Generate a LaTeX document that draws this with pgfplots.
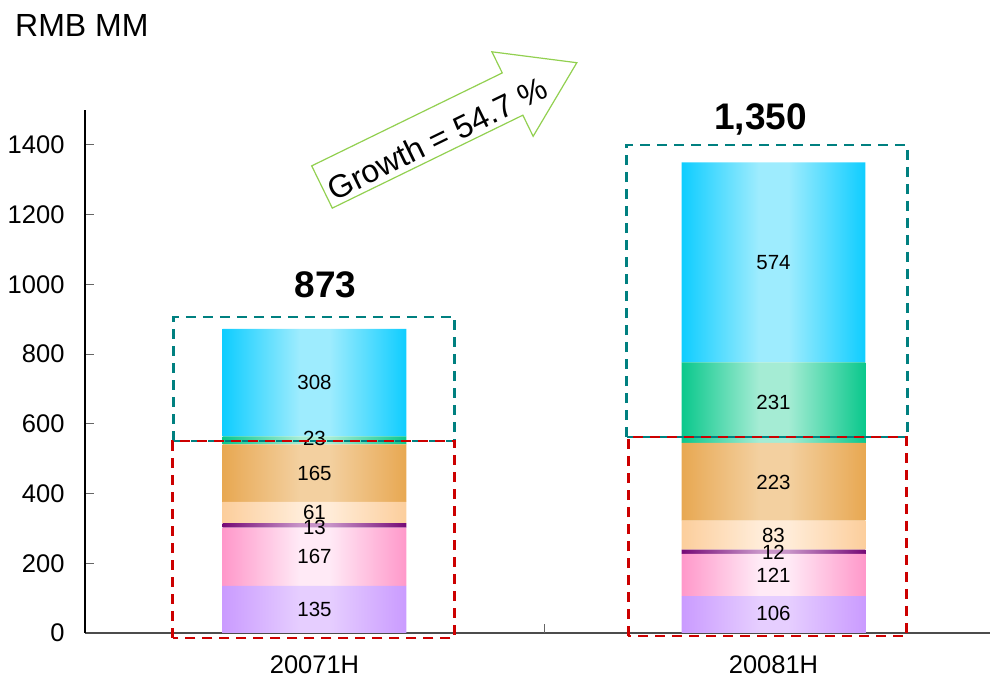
\documentclass[border=0pt]{standalone}
\usepackage{pgfplots}
\pgfplotsset{compat=1.18}
\usepackage{pgfplotstable}
\usepackage{fontspec}
\setmainfont{Liberation Sans}

\definecolor{c1e}{RGB}{202,155,255}
\definecolor{c1m}{RGB}{230,206,255}
\definecolor{c2e}{RGB}{255,152,202}
\definecolor{c2m}{RGB}{255,234,246}
\definecolor{c3e}{RGB}{118,10,118}
\definecolor{c3m}{RGB}{200,148,200}
\definecolor{c4e}{RGB}{252,206,156}
\definecolor{c4m}{RGB}{255,236,216}
\definecolor{c5e}{RGB}{232,168,82}
\definecolor{c5m}{RGB}{243,208,160}
\definecolor{c6e}{RGB}{10,200,140}
\definecolor{c6m}{RGB}{165,236,212}
\definecolor{c7e}{RGB}{15,205,255}
\definecolor{c7m}{RGB}{158,236,254}
\definecolor{boxteal}{RGB}{0,128,128}
\definecolor{boxred}{RGB}{204,0,0}
\definecolor{arrowgreen}{RGB}{146,208,80}

\pgfplotstableread{
x a b c d e f g
0 135 167 13 61 165 23 308
1 106 121 12 83 223 231 574
}\datatable

\begin{document}%
\begin{tikzpicture}[seglabel/.style={font=\fontsize{20.5}{24}\selectfont, inner sep=0pt, text=black},
  dashbox/.style={dash pattern=on 10pt off 7pt, line width=2.7pt}]
% one shading per series: the path of a series spans both bars
% (x from -0.2 to 1.2), mapped onto 25bp..75bp of the shading
\pgfdeclarehorizontalshading{sh1}{100bp}{color(0bp)=(c1e); color(25bp)=(c1e); color(31bp)=(c1m); color(33.29bp)=(c1m); color(39.29bp)=(c1e); color(60.71bp)=(c1e); color(66.71bp)=(c1m); color(69bp)=(c1m); color(75bp)=(c1e); color(100bp)=(c1e)}
\pgfdeclarehorizontalshading{sh2}{100bp}{color(0bp)=(c2e); color(25bp)=(c2e); color(31bp)=(c2m); color(33.29bp)=(c2m); color(39.29bp)=(c2e); color(60.71bp)=(c2e); color(66.71bp)=(c2m); color(69bp)=(c2m); color(75bp)=(c2e); color(100bp)=(c2e)}
\pgfdeclarehorizontalshading{sh3}{100bp}{color(0bp)=(c3e); color(25bp)=(c3e); color(31bp)=(c3m); color(33.29bp)=(c3m); color(39.29bp)=(c3e); color(60.71bp)=(c3e); color(66.71bp)=(c3m); color(69bp)=(c3m); color(75bp)=(c3e); color(100bp)=(c3e)}
\pgfdeclarehorizontalshading{sh4}{100bp}{color(0bp)=(c4e); color(25bp)=(c4e); color(31bp)=(c4m); color(33.29bp)=(c4m); color(39.29bp)=(c4e); color(60.71bp)=(c4e); color(66.71bp)=(c4m); color(69bp)=(c4m); color(75bp)=(c4e); color(100bp)=(c4e)}
\pgfdeclarehorizontalshading{sh5}{100bp}{color(0bp)=(c5e); color(25bp)=(c5e); color(31bp)=(c5m); color(33.29bp)=(c5m); color(39.29bp)=(c5e); color(60.71bp)=(c5e); color(66.71bp)=(c5m); color(69bp)=(c5m); color(75bp)=(c5e); color(100bp)=(c5e)}
\pgfdeclarehorizontalshading{sh6}{100bp}{color(0bp)=(c6e); color(25bp)=(c6e); color(31bp)=(c6m); color(33.29bp)=(c6m); color(39.29bp)=(c6e); color(60.71bp)=(c6e); color(66.71bp)=(c6m); color(69bp)=(c6m); color(75bp)=(c6e); color(100bp)=(c6e)}
\pgfdeclarehorizontalshading{sh7}{100bp}{color(0bp)=(c7e); color(25bp)=(c7e); color(31bp)=(c7m); color(33.29bp)=(c7m); color(39.29bp)=(c7e); color(60.71bp)=(c7e); color(66.71bp)=(c7m); color(69bp)=(c7m); color(75bp)=(c7e); color(100bp)=(c7e)}
\path[use as bounding box] (-85pt,-46pt) rectangle (905pt,633pt);
\begin{axis}[
  at={(0pt,0pt)}, anchor=south west,
  scale only axis, width=905pt, height=523pt,
  xmin=-0.5, xmax=1.4717, ymin=0, ymax=1500,
  ybar stacked, bar width=0.4,
  axis x line*=bottom, axis y line*=left,
  x axis line style={draw=black!70, line width=1.2pt},
  y axis line style={draw=black, line width=1.2pt},
  ytick={0,200,...,1400},
  y tick style={draw=black!60, line width=1pt},
  major tick length=9pt, tick align=inside,
  xtick={0,1}, xticklabels={20071H,20081H},
  x tick style={draw=none},
  extra x ticks={0.5}, extra x tick labels={},
  extra x tick style={x tick style={draw=black!60, line width=1pt}},
  tick label style={font=\fontsize{25.5}{30}\selectfont},
  yticklabel style={xshift=-17pt},
  xticklabel style={yshift=-19pt},
  /pgf/number format/assume math mode=true,
  /pgf/number format/1000 sep={},
  clip=false,
]
\addplot[draw=none, left color=c1e, shading=sh1, shading angle=0] table[x=x,y=a]{\datatable};
\addplot[draw=none, left color=c2e, shading=sh2, shading angle=0] table[x=x,y=b]{\datatable};
\addplot[draw=none, left color=c3e, shading=sh3, shading angle=0] table[x=x,y=c]{\datatable};
\addplot[draw=none, left color=c4e, shading=sh4, shading angle=0] table[x=x,y=d]{\datatable};
\addplot[draw=none, left color=c5e, shading=sh5, shading angle=0] table[x=x,y=e]{\datatable};
\addplot[draw=none, left color=c6e, shading=sh6, shading angle=0] table[x=x,y=f]{\datatable};
\addplot[draw=none, left color=c7e, shading=sh7, shading angle=0] table[x=x,y=g]{\datatable};

% anchor points for the segment labels (centred in their segments)
\coordinate (a1) at (axis cs:0,67.5);
\coordinate (b1) at (axis cs:0,218.5);
\coordinate (c1) at (axis cs:0,304);
\coordinate (d1) at (axis cs:0,347);
\coordinate (e1) at (axis cs:0,458.5);
\coordinate (f1) at (axis cs:0,559);
\coordinate (g1) at (axis cs:0,718);
\coordinate (a2) at (axis cs:1,55);
\coordinate (b2) at (axis cs:1,166.5);
\coordinate (c2) at (axis cs:1,232);
\coordinate (d2) at (axis cs:1,281);
\coordinate (e2) at (axis cs:1,433);
\coordinate (f2) at (axis cs:1,660);
\coordinate (g2) at (axis cs:1,1062);
% dashed boxes
\coordinate (t1a) at (axis cs:-0.307,551); \coordinate (t1b) at (axis cs:0.305,906);
\coordinate (r1a) at (axis cs:-0.309,-14); \coordinate (r1b) at (axis cs:0.305,551);
\coordinate (t2a) at (axis cs:0.680,562);  \coordinate (t2b) at (axis cs:1.292,1400);
\coordinate (r2a) at (axis cs:0.684,-9);   \coordinate (r2b) at (axis cs:1.290,562);
\coordinate (tot1) at (axis cs:0.024,961);
\coordinate (tot2) at (axis cs:0.972,1443);
\end{axis}
\node[seglabel] at (a1) {135};
\node[seglabel] at (b1) {167};
\node[seglabel] at (c1) {13};
\node[seglabel] at (d1) {61};
\node[seglabel] at (e1) {165};
\node[seglabel] at (f1) {23};
\node[seglabel] at (g1) {308};
\node[seglabel] at (a2) {106};
\node[seglabel] at (b2) {121};
\node[seglabel] at (c2) {12};
\node[seglabel] at (d2) {83};
\node[seglabel] at (e2) {223};
\node[seglabel] at (f2) {231};
\node[seglabel] at (g2) {574};
\draw[boxteal, dashbox] (t1a) rectangle (t1b);
\draw[boxred, dashbox] (r1a) rectangle (r1b);
\draw[boxteal, dashbox] (t2a) rectangle (t2b);
\draw[boxred, dashbox] (r2a) rectangle (r2b);
\node[anchor=base, inner sep=0pt, font=\bfseries\fontsize{37}{42}\selectfont] at (tot1) {873};
\node[anchor=base, inner sep=0pt, font=\bfseries\fontsize{37}{42}\selectfont] at (tot2) {1,350};
\node[anchor=base west, inner sep=0pt, font=\fontsize{32}{36}\selectfont] at (-70pt,596pt) {RMB MM};
\begin{scope}[shift={(237pt,446pt)}, rotate=26]
\draw[arrowgreen, line width=1.2pt, fill=white] (0pt,-23.5pt) -- (212pt,-23.5pt) -- (212pt,-47pt) -- (283.5pt,0pt) -- (212pt,47pt) -- (212pt,23.5pt) -- (0pt,23.5pt) -- cycle;
\node[transform shape, inner sep=0pt, font=\fontsize{32}{38}\selectfont] at (125pt,-7pt) {Growth = 54.7 \%};
\end{scope}
\end{tikzpicture}%
\end{document}
